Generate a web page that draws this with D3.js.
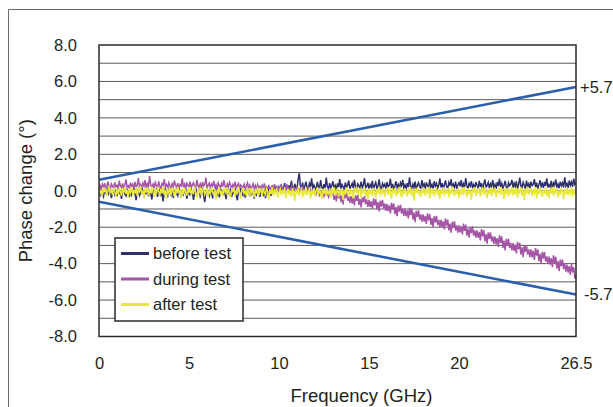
<!DOCTYPE html>
<html>
<head>
<meta charset="utf-8">
<script src="https://cdn.jsdelivr.net/npm/d3@7"></script>
<style>
  html, body { margin: 0; padding: 0; background: #fff; }
  svg { display: block; font-family: "Liberation Sans", Arial, Helvetica, sans-serif; }
</style>
</head>
<body>
<svg id="chart" width="613" height="407"></svg>
<script>
// Sweep: 0 to 26.5 GHz, evenly spaced samples (16 per GHz)
const freqMaxGHz = 26.5;

// Phase change (degrees) before the test
const beforeTest = [
  -0.05,-0.22,0.10,-0.15,-0.32,0.02,-0.10,0.18,-0.25,-0.08,0.05,-0.40,-0.12,0.08,-0.20,-0.02,
  -0.30,0.12,-0.14,-0.05,-0.45,0.00,0.15,-0.18,-0.28,0.04,-0.10,-0.35,0.10,-0.22,-0.06,0.14,
  -0.16,-0.52,-0.04,0.08,-0.26,-0.12,0.20,-0.08,-0.38,0.02,-0.18,0.12,-0.30,-0.02,-0.14,-0.48,
  0.06,-0.20,-0.10,0.16,-0.34,-0.06,0.04,-0.24,-0.12,-0.58,0.00,0.10,-0.18,-0.30,0.08,-0.08,
  -0.22,0.14,-0.40,-0.04,0.02,-0.16,-0.28,0.18,-0.10,-0.36,0.06,-0.20,-0.02,0.12,-0.44,-0.14,
  0.00,-0.26,0.10,-0.08,-0.50,-0.12,0.16,-0.20,-0.04,0.08,-0.32,-0.16,0.04,-0.24,-0.62,-0.06,
  0.12,-0.18,-0.30,0.02,-0.10,-0.42,0.06,-0.14,0.20,-0.22,-0.08,-0.36,0.10,-0.02,-0.26,0.04,
  -0.16,-0.46,0.08,-0.10,-0.20,0.14,-0.34,-0.04,-0.12,0.06,-0.28,-0.52,0.02,-0.18,0.16,-0.08,
  -0.24,0.04,-0.38,-0.12,0.10,-0.06,-0.30,0.18,-0.16,-0.02,-0.44,0.08,-0.20,0.00,-0.12,-0.34,
  0.14,-0.08,-0.22,0.06,-0.40,0.02,-0.14,0.22,-0.06,-0.28,0.10,-0.12,0.30,-0.04,0.16,-0.10,
  0.20,0.02,0.35,-0.06,0.12,0.42,0.05,0.25,-0.02,0.30,0.10,0.55,0.15,0.04,0.38,0.18,
  0.08,0.62,0.96,0.30,0.12,0.45,0.02,0.28,0.50,0.14,0.06,0.40,0.22,0.68,0.10,0.32,
  0.18,0.04,0.48,0.26,0.12,0.58,0.20,0.06,0.36,0.14,0.72,0.24,0.08,0.42,0.16,0.30,
  0.52,0.10,0.28,0.04,0.40,0.20,0.64,0.12,0.34,0.22,0.06,0.46,0.18,0.30,0.56,0.08,
  0.26,0.40,0.14,0.60,0.22,0.05,0.38,0.28,0.12,0.50,0.18,0.32,0.70,0.16,0.24,0.44,
  0.10,0.34,0.20,0.54,0.06,0.30,0.46,0.14,0.26,0.62,0.18,0.08,0.40,0.24,0.36,0.12,
  0.48,0.22,0.30,0.66,0.14,0.38,0.04,0.26,0.52,0.18,0.34,0.10,0.44,0.28,0.60,0.16,
  0.32,0.08,0.42,0.20,0.74,0.26,0.12,0.36,0.18,0.50,0.06,0.30,0.44,0.22,0.14,0.58,
  0.24,0.38,0.10,0.46,0.28,0.16,0.62,0.20,0.34,0.08,0.52,0.26,0.40,0.14,0.30,0.68,
  0.18,0.42,0.06,0.34,0.56,0.22,0.12,0.46,0.28,0.64,0.16,0.36,0.20,0.50,0.10,0.32,
  0.44,0.24,0.58,0.14,0.38,0.20,0.70,0.28,0.08,0.40,0.26,0.52,0.18,0.34,0.12,0.48,
  0.30,0.16,0.54,0.22,0.42,0.06,0.36,0.62,0.20,0.28,0.46,0.14,0.38,0.24,0.58,0.18,
  0.34,0.10,0.48,0.26,0.66,0.20,0.40,0.14,0.30,0.54,0.22,0.08,0.44,0.28,0.36,0.60,
  0.16,0.42,0.24,0.52,0.12,0.34,0.72,0.26,0.18,0.46,0.30,0.10,0.56,0.22,0.38,0.14,
  0.50,0.28,0.36,0.64,0.20,0.44,0.12,0.32,0.58,0.24,0.40,0.16,0.48,0.26,0.68,0.18,
  0.34,0.22,0.54,0.10,0.42,0.30,0.62,0.20,0.36,0.14,0.50,0.28,0.44,0.18,0.74,0.26,
  0.40,0.16,0.56,0.30,0.48,0.22,0.66,0.34,0.44
];

// Phase change (degrees) during the test
const duringTest = [
  0.10,0.28,0.05,0.35,0.18,0.42,0.12,0.26,0.50,0.20,0.08,0.38,0.24,0.15,0.46,0.22,
  0.30,0.12,0.55,0.26,0.18,0.40,0.08,0.32,0.62,0.20,0.28,0.14,0.44,0.24,0.36,0.10,
  0.48,0.22,0.30,0.70,0.18,0.34,0.12,0.42,0.26,0.58,0.16,0.38,0.24,0.80,0.30,0.20,
  0.36,0.14,0.46,0.28,0.18,0.52,0.24,0.10,0.40,0.30,0.64,0.20,0.34,0.16,0.44,0.26,
  0.12,0.38,0.22,0.56,0.30,0.18,0.42,0.14,0.34,0.26,0.68,0.20,0.36,0.10,0.46,0.28,
  0.22,0.50,0.16,0.32,0.44,0.24,0.12,0.60,0.28,0.20,0.38,0.14,0.48,0.26,0.34,0.72,
  0.18,0.30,0.42,0.12,0.36,0.24,0.54,0.20,0.32,0.08,0.44,0.28,0.16,0.40,0.22,0.58,
  0.26,0.12,0.38,0.20,0.46,0.30,0.10,0.34,0.22,0.50,0.16,0.28,0.40,0.14,0.32,0.24,
  0.18,0.36,0.10,0.26,0.44,0.14,0.30,0.06,0.22,0.38,0.12,0.28,0.02,0.34,0.16,0.24,
  0.08,0.30,0.14,0.40,0.04,0.22,0.12,0.32,0.00,0.18,0.26,0.06,0.36,0.10,0.20,0.02,
  0.16,0.04,0.28,0.10,-0.02,0.22,0.08,0.34,0.00,0.14,0.06,0.24,-0.04,0.18,0.10,0.02,
  0.20,0.06,-0.06,0.14,0.02,0.26,-0.08,0.10,0.00,-0.12,0.16,-0.04,0.08,-0.16,0.04,-0.10,
  -0.02,-0.20,0.06,-0.14,-0.26,-0.08,-0.18,0.00,-0.30,-0.12,-0.22,-0.06,-0.34,-0.16,-0.24,-0.10,
  -0.12,-0.50,-0.24,-0.58,-0.08,-0.40,-0.05,-0.62,-0.28,-0.75,-0.18,-0.40,-0.10,-0.55,-0.32,-0.66,
  -0.30,-0.70,-0.38,-0.80,-0.25,-0.56,-0.20,-0.78,-0.44,-0.92,-0.36,-0.62,-0.30,-0.74,-0.48,-0.88,
  -0.50,-0.88,-0.58,-1.00,-0.42,-0.80,-0.46,-1.02,-0.62,-1.14,-0.54,-0.86,-0.50,-0.98,-0.70,-1.10,
  -0.72,-1.12,-0.80,-1.24,-0.66,-1.02,-0.70,-1.28,-0.90,-1.40,-0.80,-1.14,-0.78,-1.26,-0.98,-1.38,
  -1.00,-1.40,-1.08,-1.52,-0.94,-1.32,-0.98,-1.58,-1.20,-1.72,-1.10,-1.44,-1.08,-1.58,-1.30,-1.70,
  -1.30,-1.70,-1.38,-1.82,-1.24,-1.62,-1.28,-1.88,-1.50,-2.00,-1.40,-1.74,-1.38,-1.88,-1.60,-2.00,
  -1.60,-2.00,-1.68,-2.12,-1.52,-1.92,-1.58,-2.18,-1.80,-2.30,-1.70,-2.04,-1.68,-2.18,-1.90,-2.30,
  -1.90,-2.28,-1.96,-2.40,-1.80,-2.20,-1.86,-2.46,-2.08,-2.58,-1.98,-2.32,-1.96,-2.46,-2.18,-2.58,
  -2.18,-2.58,-2.26,-2.72,-2.10,-2.50,-2.16,-2.78,-2.38,-2.90,-2.28,-2.64,-2.28,-2.78,-2.50,-2.92,
  -2.52,-2.94,-2.60,-3.08,-2.44,-2.86,-2.50,-3.14,-2.74,-3.28,-2.64,-3.00,-2.64,-3.14,-2.86,-3.28,
  -2.88,-3.30,-2.96,-3.44,-2.80,-3.20,-2.86,-3.50,-3.10,-3.64,-3.00,-3.36,-2.98,-3.50,-3.22,-3.64,
  -3.22,-3.66,-3.30,-3.80,-3.14,-3.56,-3.22,-3.86,-3.46,-4.00,-3.36,-3.72,-3.36,-3.88,-3.60,-4.02,
  -3.62,-4.06,-3.70,-4.20,-3.54,-3.96,-3.62,-4.28,-3.86,-4.42,-3.78,-4.14,-3.78,-4.30,-4.02,-4.44,
  -4.06,-4.50,-4.14,-4.62,-4.02,-4.48,-4.20,-4.82,-4.62
];

// Phase change (degrees) after the test
const afterTest = [
  0.12,-0.18,0.05,-0.26,0.20,-0.08,0.15,-0.30,0.02,0.24,-0.14,0.08,-0.22,0.16,-0.04,-0.32,
  0.10,-0.20,0.18,-0.06,-0.28,0.14,-0.12,0.22,-0.18,0.04,-0.36,0.12,-0.08,0.20,-0.24,0.06,
  -0.14,0.16,-0.30,0.08,-0.04,0.26,-0.20,0.02,-0.42,0.14,-0.10,0.18,-0.26,0.06,-0.16,0.22,
  -0.08,-0.34,0.12,-0.18,0.20,-0.02,-0.28,0.10,-0.14,0.24,-0.22,0.04,-0.46,0.16,-0.10,0.08,
  -0.24,0.18,-0.06,-0.32,0.14,-0.16,0.22,-0.08,0.02,-0.38,0.12,-0.20,0.16,-0.04,-0.28,0.10,
  -0.12,0.20,-0.26,0.06,-0.18,0.24,-0.10,-0.40,0.08,-0.14,0.18,-0.30,0.04,0.14,-0.22,-0.06,
  0.16,-0.34,0.02,-0.16,0.22,-0.08,-0.26,0.12,-0.50,0.06,-0.12,0.20,-0.20,0.00,-0.30,0.14,
  -0.06,0.18,-0.24,0.08,-0.14,-0.36,0.16,-0.04,0.10,-0.28,0.04,-0.18,0.22,-0.10,-0.44,0.06,
  0.12,-0.20,0.02,-0.30,0.18,-0.08,-0.24,0.14,-0.12,0.06,-0.38,0.10,-0.16,0.20,-0.26,-0.02,
  0.08,-0.32,0.16,-0.10,-0.22,0.12,-0.04,-0.48,0.06,-0.18,0.20,-0.28,0.02,-0.12,0.14,-0.36,
  -0.06,0.10,-0.26,0.04,-0.16,0.18,-0.40,-0.08,0.12,-0.22,0.02,-0.32,0.14,-0.10,-0.56,0.06,
  -0.18,0.16,-0.28,-0.04,0.10,-0.36,0.04,-0.14,0.20,-0.24,-0.06,0.12,-0.44,0.02,-0.20,0.14,
  -0.30,-0.02,0.18,-0.22,0.06,-0.12,-0.46,0.10,-0.18,0.16,-0.28,0.00,-0.14,0.12,-0.38,0.04,
  -0.10,0.20,-0.26,-0.06,0.14,-0.34,0.02,-0.16,0.10,-0.52,0.06,-0.20,0.18,-0.08,-0.30,0.12,
  -0.16,0.04,-0.42,0.14,-0.08,0.22,-0.24,-0.02,0.10,-0.36,0.06,-0.14,0.18,-0.28,0.00,-0.48,
  0.12,-0.20,0.04,-0.30,0.16,-0.10,-0.40,0.08,-0.16,0.20,-0.26,0.02,-0.12,0.14,-0.34,-0.04,
  0.10,-0.24,0.18,-0.14,-0.44,0.06,-0.08,0.16,-0.30,0.02,-0.18,0.22,-0.10,-0.38,0.08,-0.20,
  0.14,-0.06,-0.32,0.10,-0.16,0.20,-0.26,0.04,-0.54,0.12,-0.12,0.18,-0.22,0.00,-0.34,0.08,
  -0.14,0.16,-0.28,0.04,-0.08,0.22,-0.40,0.10,-0.18,0.14,-0.30,-0.02,0.12,-0.24,0.06,-0.46,
  0.10,-0.16,0.20,-0.26,0.02,-0.10,0.16,-0.36,0.08,-0.20,0.24,-0.12,-0.30,0.06,-0.18,0.14,
  -0.42,0.04,-0.14,0.18,-0.24,0.10,-0.06,-0.34,0.14,-0.20,0.02,-0.50,0.12,-0.10,0.20,-0.28,
  0.06,-0.16,0.16,-0.32,-0.04,0.12,-0.22,0.20,-0.12,-0.40,0.08,-0.18,0.14,-0.28,0.02,-0.08,
  0.18,-0.36,0.04,-0.14,0.22,-0.24,0.10,-0.06,-0.46,0.12,-0.20,0.16,-0.30,0.00,-0.12,0.20,
  -0.26,0.08,-0.18,0.14,-0.38,0.02,-0.10,0.18,-0.28,0.06,-0.52,0.12,-0.16,0.22,-0.22,-0.04,
  0.14,-0.30,0.06,-0.12,0.20,-0.42,0.10,-0.20,0.16,-0.08,-0.34,0.04,-0.18,0.18,-0.26,0.02,
  -0.44,0.12,-0.14,0.20,-0.28,0.06,-0.08,0.16,-0.36,0.00,-0.22,0.14,-0.12,-0.48,0.10,-0.18,
  0.16,-0.26,0.04,-0.14,0.20,-0.32,0.08,-0.20,0.10
];

// Tolerance limits (degrees) at 0 GHz and 26.5 GHz
const limitFreqs = [0, 26.5];
const upperLimit = [0.6, 5.7];
const lowerLimit = [-0.6, -5.7];
const limitLabels = ["+5.7", "-5.7"];

// Axis ticks
const xTicks = [0, 5, 10, 15, 20, 26.5];
const yTicks = [-8, -6, -4, -2, 0, 2, 4, 6, 8];
const yGrid = [-7, -6, -5, -4, -3, -2, -1, 0, 1, 2, 3, 4, 5, 6, 7];

const seriesNames = ["before test", "during test", "after test"];
const seriesColors = ["#2f2f6d", "#a455a6", "#e9e83a"];
const limitColor = "#2b5eab";
const textColor = "#231f20";

const svg = d3.select("#chart");
const plot = { left: 99, right: 576, top: 45, bottom: 336.5 };

const x = d3.scaleLinear().domain([0, freqMaxGHz]).range([plot.left, plot.right]);
const y = d3.scaleLinear().domain([-8, 8]).range([plot.bottom, plot.top]);

// Outer frame
svg.append("path")
  .attr("d", "M8.5,407 V9.5 H613")
  .attr("fill", "none")
  .attr("stroke", "#6a6a6a")
  .attr("stroke-width", 1);

// Horizontal grid lines
svg.append("g").selectAll("line").data(yGrid).join("line")
  .attr("x1", plot.left).attr("x2", plot.right)
  .attr("y1", d => y(d)).attr("y2", d => y(d))
  .attr("stroke", "#5a5a5a").attr("stroke-width", 1);

// Y tick labels
const yAxis = d3.axisLeft(y).tickValues(yTicks).tickFormat(d => d.toFixed(1)).tickSize(0).tickPadding(22);
const yg = svg.append("g").attr("transform", `translate(${plot.left},0)`).call(yAxis);
yg.select(".domain").remove();
yg.selectAll("text").attr("font-size", 16.5).attr("fill", textColor)
  .attr("font-family", "Liberation Sans, Arial, sans-serif");

// X tick labels
const xAxis = d3.axisBottom(x).tickValues(xTicks).tickFormat(d => String(d)).tickSize(0).tickPadding(21);
const xg = svg.append("g").attr("transform", `translate(0,${plot.bottom})`).call(xAxis);
xg.select(".domain").remove();
xg.selectAll("text").attr("font-size", 16.5).attr("fill", textColor)
  .attr("font-family", "Liberation Sans, Arial, sans-serif");

// Measured traces (samples evenly spread over the sweep)
[beforeTest, duringTest, afterTest].forEach((vals, k) => {
  const step = freqMaxGHz / (vals.length - 1);
  const line = d3.line().x((d, i) => x(i * step)).y(d => y(d));
  svg.append("path")
    .datum(vals)
    .attr("d", line)
    .attr("fill", "none")
    .attr("stroke", seriesColors[k])
    .attr("stroke-width", 1.5);
});

// Tolerance limit lines
const limitLine = d3.line().x((d, i) => x(limitFreqs[i])).y(d => y(d));
[upperLimit, lowerLimit].forEach((vals, k) => {
  svg.append("path")
    .datum(vals)
    .attr("d", limitLine)
    .attr("fill", "none")
    .attr("stroke", limitColor)
    .attr("stroke-width", 2.6);
  svg.append("text")
    .attr("x", x(limitFreqs[1]) + (k === 0 ? 4 : 8))
    .attr("y", y(vals[1]))
    .attr("dy", "0.35em")
    .attr("font-size", 16.5)
    .attr("fill", textColor)
    .text(limitLabels[k]);
});

// Plot border
svg.append("rect")
  .attr("x", plot.left).attr("y", plot.top)
  .attr("width", plot.right - plot.left).attr("height", plot.bottom - plot.top)
  .attr("fill", "none").attr("stroke", "#2a2a2a").attr("stroke-width", 1.5);

// Legend
const legend = svg.append("g").attr("transform", "translate(115,238)");
legend.append("rect")
  .attr("width", 128).attr("height", 83)
  .attr("fill", "#fff").attr("stroke", "#2a2a2a").attr("stroke-width", 1.5);
seriesNames.forEach((name, k) => {
  const ly = 15.5 + k * 25.5;
  legend.append("line")
    .attr("x1", 6).attr("x2", 34).attr("y1", ly).attr("y2", ly)
    .attr("stroke", seriesColors[k]).attr("stroke-width", 3);
  legend.append("text")
    .attr("x", 38).attr("y", ly).attr("dy", "0.35em")
    .attr("font-size", 16.5).attr("fill", textColor)
    .text(name);
});

// Axis titles
svg.append("text")
  .attr("x", (plot.left + plot.right) / 2 + 24)
  .attr("y", 402)
  .attr("text-anchor", "middle")
  .attr("font-size", 18.5).attr("fill", textColor)
  .text("Frequency (GHz)");

svg.append("text")
  .attr("transform", `translate(32,${(plot.top + plot.bottom) / 2}) rotate(-90)`)
  .attr("text-anchor", "middle")
  .attr("font-size", 18.5).attr("fill", textColor)
  .text("Phase change (°)");
</script>
</body>
</html>
